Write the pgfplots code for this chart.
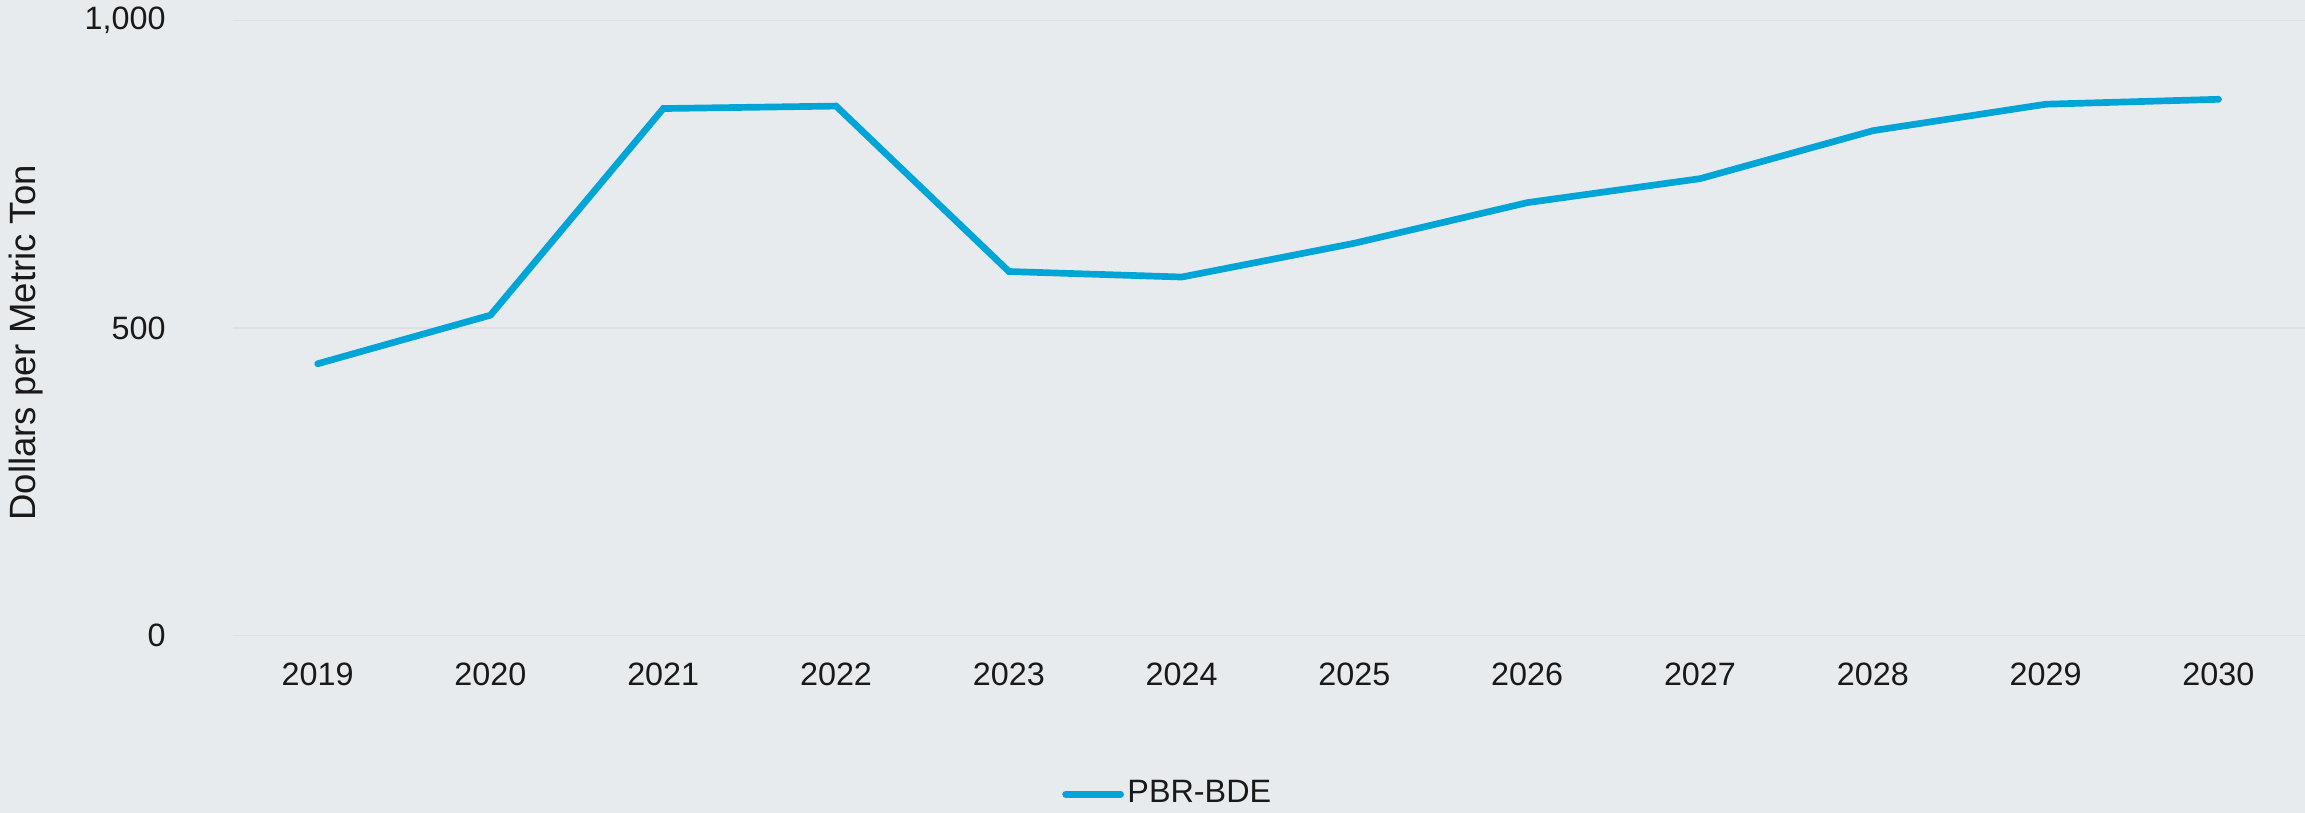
\documentclass[border=0pt]{standalone}
\usepackage{fontspec}
\setmainfont{Liberation Sans}
\usepackage{pgfplots}
\pgfplotsset{compat=1.18}

\definecolor{bg}{HTML}{E7EBEE}
\definecolor{gridc}{HTML}{DCE0E3}
\definecolor{pbr}{HTML}{00A5D8}

\begin{document}
\begin{tikzpicture}
\path[use as bounding box, fill=bg] (-2.33cm,-1.77cm) rectangle (20.72cm,6.356cm);
\begin{axis}[
    at={(0,0)}, anchor=south west,
    scale only axis,
    width=20.72cm, height=6.15cm,
    xmin=2018.51, xmax=2030.5,
    ymin=0, ymax=1000,
    xtick={2019,...,2030},
    xticklabel style={/pgf/number format/1000 sep={}},
    ytick={0,500,1000},
    yticklabel style={/pgf/number format/1000 sep={,}},
    /pgf/number format/assume math mode=true,
    axis line style={draw=none},
    major tick length=0pt,
    ymajorgrids,
    grid style={gridc, line width=0.5pt},
    tick label style={font=\fontsize{9.2}{11}\selectfont, text=black!90},
    yticklabel style={xshift=-0.55cm},
    xticklabel style={yshift=-0.15cm},
    ylabel={Dollars per Metric Ton},
    ylabel style={font=\fontsize{10.4}{12}\selectfont, text=black!90,
        at={(axis description cs:-0.0999,0.476)}, anchor=center},
    legend style={at={(axis description cs:0.4515,-0.258)}, anchor=center, draw=none, fill=none,
        font=\fontsize{9.2}{11}\selectfont, text=black!90, inner sep=1pt,
        nodes={inner xsep=1pt}},
    legend cell align=left,
    legend image code/.code={\draw[#1, line cap=round] (0cm,0cm) -- (0.55cm,0cm);},
]
\addplot[pbr, line width=1.9pt, line join=miter, line cap=round] coordinates {
    (2019, 442)
    (2020, 521)
    (2021, 857)
    (2022, 861)
    (2023, 592)
    (2024, 583)
    (2025, 638)
    (2026, 704)
    (2027, 743)
    (2028, 821)
    (2029, 864)
    (2030, 872)
};
\addlegendentry{PBR-BDE}
\end{axis}
\end{tikzpicture}
\end{document}
